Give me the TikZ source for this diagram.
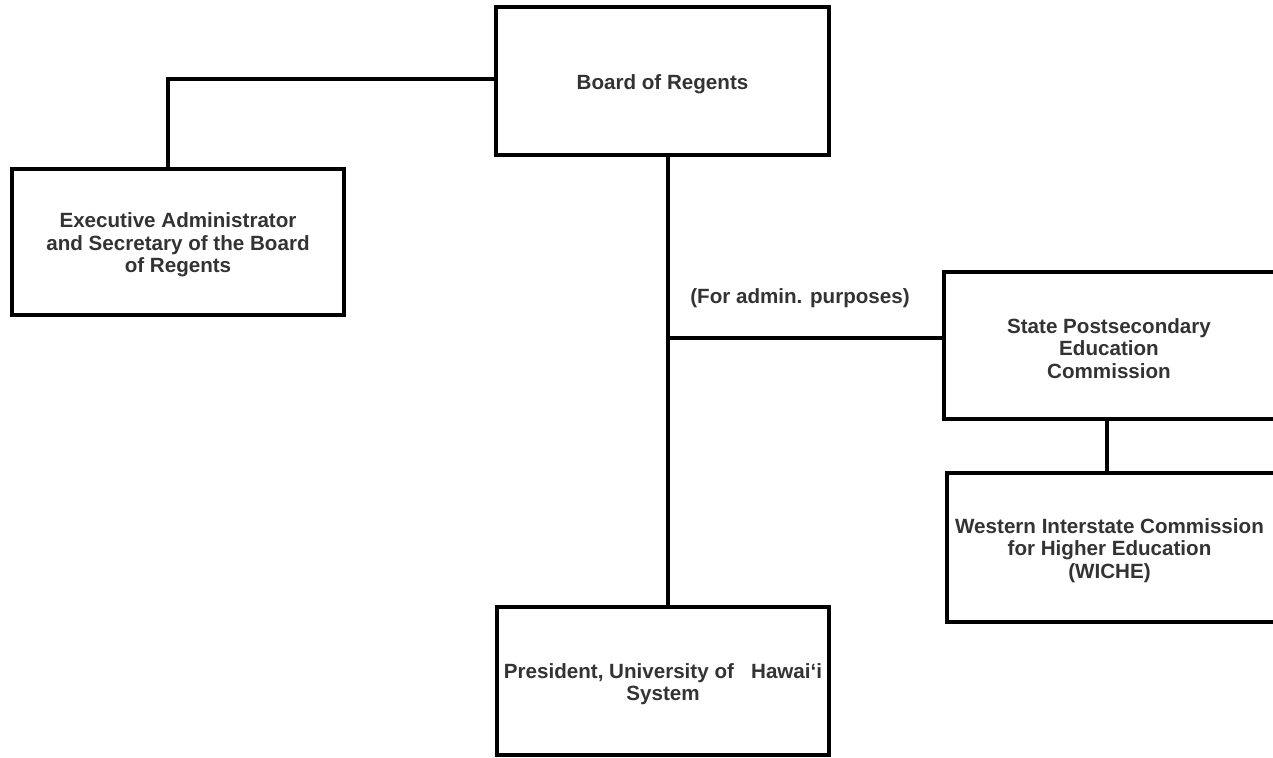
\documentclass[tikz,border=0pt]{standalone}
\usepackage{fontspec}
\setmainfont{Liberation Sans}
\definecolor{txt}{HTML}{333333}
\begin{document}
\begin{tikzpicture}[x=1pt,y=-1pt,
  box/.style={draw=black, line width=4pt, rectangle, inner sep=0pt},
  boxtext/.style={align=center, inner sep=0pt, yshift=-3pt,
    text=txt, font=\fontsize{20.6}{22.5}\selectfont\bfseries},
  conn/.style={draw=black, line width=4pt},
  lbl/.style={text=txt, font=\fontsize{20.6}{22.5}\selectfont\bfseries, inner sep=0pt}]
\useasboundingbox (0,0) rectangle (1273,757);
\clip (0,0) rectangle (1273,757);
\fill[white] (0,0) rectangle (1273,757);
\node[box, minimum width=333pt, minimum height=147pt,
  label={[boxtext]center:Board of Regents}] (board) at (662.5,81) {};
\node[box, minimum width=332pt, minimum height=146pt,
  label={[boxtext]center:{Executive Administrator\\and Secretary of the Board\\of Regents}}] (exec) at (178,242) {};
\node[box, minimum width=336pt, minimum height=147pt,
  label={[boxtext, xshift=-3pt]center:{State Postsecondary\\Education\\Commission}}] (spec) at (1112,345.5) {};
\node[box, minimum width=333pt, minimum height=149pt,
  label={[boxtext, xshift=-4pt]center:{Western Interstate Commission\\for Higher Education\\(WICHE)}}] (wiche) at (1113.5,547.5) {};
\node[box, minimum width=332pt, minimum height=148pt,
  label={[boxtext]center:{President, University of\ \ \ Hawai‘i\\System}}] (pres) at (663,681) {};
\node[lbl] (admin) at (800,298) {(For admin. purposes)};
\coordinate (j) at (668,338);
\coordinate (k) at (1107,0);
\coordinate (m) at (168,79);
\draw[conn] (board.west |- m) -- (m) -- (m |- exec.north);
\draw[conn] (board.south -| j) -- (pres.north -| j);
\draw[conn] (j) -- (j -| spec.west);
\draw[conn] (spec.south -| k) -- (wiche.north -| k);
\end{tikzpicture}
\end{document}
